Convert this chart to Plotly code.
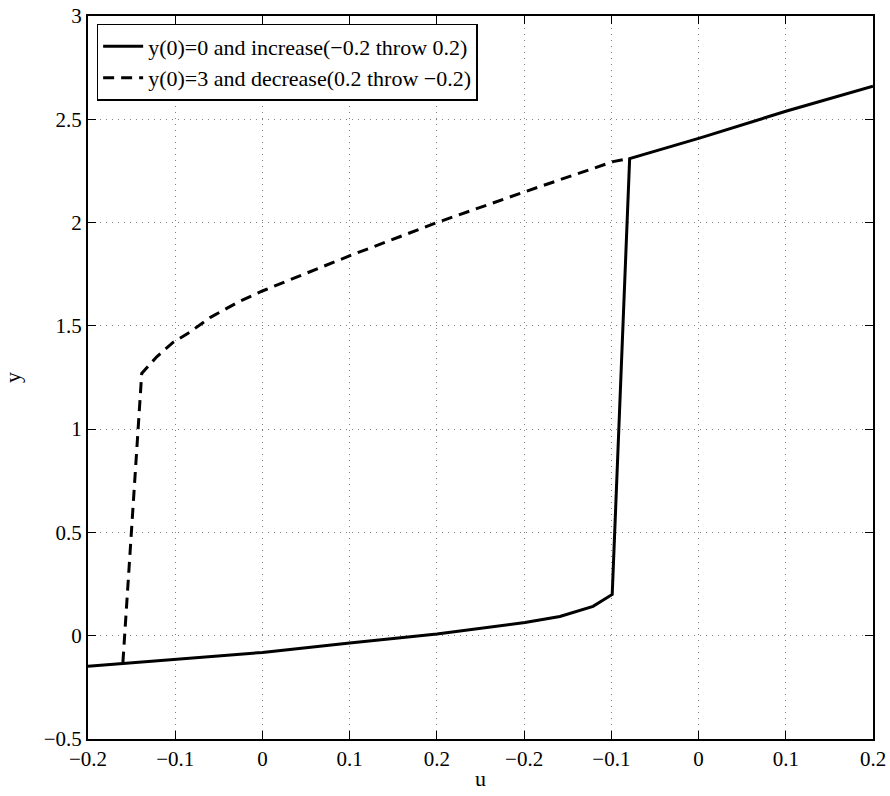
import plotly.graph_objects as go

# Axis positions (10 evenly spaced ticks) and their labels
tick_pos = [0, 1, 2, 3, 4, 5, 6, 7, 8, 9]
tick_labels = ["\u22120.2", "\u22120.1", "0", "0.1", "0.2",
               "\u22120.2", "\u22120.1", "0", "0.1", "0.2"]
y_ticks = [-0.5, 0, 0.5, 1, 1.5, 2, 2.5, 3]
y_tick_labels = ["\u22120.5", "0", "0.5", "1", "1.5", "2", "2.5", "3"]

# Increasing sweep: y(0)=0
inc_x = [0.0, 1.0, 2.0, 3.0, 4.0, 5.01, 5.41, 5.79, 6.01, 6.21, 7.02, 8.01, 9.0]
inc_y = [-0.148, -0.116, -0.081, -0.035, 0.008, 0.064, 0.093, 0.142, 0.20,
         2.31, 2.41, 2.54, 2.66]

# Decreasing sweep: y(0)=3
dec_x = [0.40, 0.616, 0.788, 0.975, 1.169, 1.399, 1.743, 2.006, 3.004, 4.001,
         4.987, 6.019, 6.214]
dec_y = [-0.13, 1.27, 1.35, 1.42, 1.47, 1.54, 1.62, 1.67, 1.84, 2.00,
         2.146, 2.295, 2.31]

FONT = "Liberation Serif"

fig = go.Figure()
fig.add_trace(go.Scatter(
    x=inc_x, y=inc_y, mode="lines",
    line=dict(color="black", width=3),
    name="y(0)=0 and increase(\u22120.2 throw 0.2)"))
fig.add_trace(go.Scatter(
    x=dec_x, y=dec_y, mode="lines",
    line=dict(color="black", width=3, dash="11px,7px"),
    name="y(0)=3 and decrease(0.2 throw \u22120.2)"))

axis_common = dict(
    showline=True, linecolor="black", linewidth=2, mirror="ticks",
    ticks="inside", ticklen=8, tickwidth=1, tickcolor="black",
    showgrid=True, gridcolor="#808080", gridwidth=1, griddash="1px,5px",
    zeroline=False, automargin=False, ticklabeloverflow="allow",
    tickfont=dict(family=FONT, size=21, color="black"),
)

fig.update_layout(
    width=890, height=796,
    margin=dict(l=88, r=17, t=16, b=57),
    plot_bgcolor="white", paper_bgcolor="white",
    font=dict(family=FONT, size=22, color="black"),
    xaxis=dict(range=[0, 9], tickmode="array", tickvals=tick_pos,
               ticktext=tick_labels,
               title=dict(text="u", font=dict(family=FONT, size=22), standoff=0),
               **axis_common),
    yaxis=dict(range=[-0.5, 3], tickmode="array", tickvals=y_ticks,
               ticktext=y_tick_labels,
               title=dict(text="y", font=dict(family=FONT, size=22), standoff=34),
               **axis_common),
    legend=dict(x=0.011, y=0.989, xanchor="left", yanchor="top",
                bgcolor="white", bordercolor="black", borderwidth=1.5,
                font=dict(family=FONT, size=22), tracegroupgap=0,
                itemwidth=40),
    showlegend=True,
)

# remove the default page-body margin so the figure fills the window exactly
fig.write_html("out.html", config={"displayModeBar": False},
               post_script="document.body.style.margin='0';")
